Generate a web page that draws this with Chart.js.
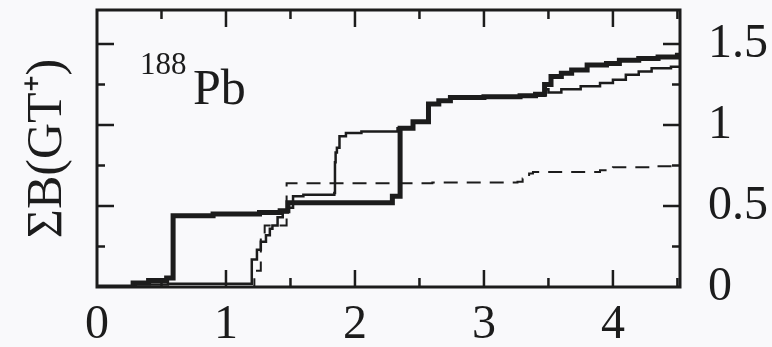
<!DOCTYPE html>
<html>
<head>
<meta charset="utf-8">
<script src="https://cdn.jsdelivr.net/npm/chart.js@4.4.0/dist/chart.umd.min.js"></script>
<style>
  html, body { margin: 0; padding: 0; background: #f9f9fb; }
  #wrap { width: 772px; height: 347px; }
</style>
</head>
<body>
<div id="wrap"><canvas id="chart"></canvas></div>
<script>
// Cumulative B(GT+) strength vs excitation energy
const thickX = [0, 0.28, 0.4, 0.54, 0.59, 0.9, 1.26, 1.42, 1.48, 2.29, 2.35, 2.45, 2.57, 2.65, 2.74, 3.0, 3.28, 3.4, 3.47, 3.52, 3.6, 3.68, 3.8, 3.95, 4.05, 4.2, 4.35, 4.5, 4.52];
const thickY = [0, 0.025, 0.04, 0.055, 0.44, 0.45, 0.46, 0.47, 0.52, 0.56, 0.98, 1.02, 1.13, 1.15, 1.17, 1.175, 1.18, 1.19, 1.25, 1.30, 1.32, 1.34, 1.37, 1.38, 1.40, 1.41, 1.42, 1.43, 1.43];

const thinX = [0, 0.3, 0.55, 1.17, 1.2, 1.24, 1.27, 1.31, 1.34, 1.36, 1.4, 1.44, 1.48, 1.52, 1.6, 1.84, 1.845, 1.85, 1.86, 1.88, 1.93, 2.05, 2.33, 2.45, 2.57, 2.65, 2.74, 3.0, 3.28, 3.47, 3.5, 3.6, 3.75, 3.9, 4.0, 4.1, 4.2, 4.3, 4.45, 4.52];
const thinY = [0, 0.015, 0.02, 0.02, 0.17, 0.23, 0.28, 0.32, 0.36, 0.38, 0.43, 0.46, 0.49, 0.56, 0.57, 0.58, 0.77, 0.83, 0.86, 0.93, 0.95, 0.96, 0.98, 1.02, 1.13, 1.15, 1.17, 1.175, 1.18, 1.22, 1.20, 1.22, 1.24, 1.26, 1.28, 1.31, 1.33, 1.35, 1.36, 1.36];

const dashX = [1.18, 1.22, 1.27, 1.3, 1.47, 2.0, 2.6, 3.26, 3.3, 3.35, 3.38, 3.6, 3.9, 4.0, 4.3, 4.52];
const dashY = [0, 0.1, 0.3, 0.38, 0.64, 0.64, 0.645, 0.65, 0.67, 0.70, 0.71, 0.71, 0.72, 0.74, 0.745, 0.765];

const xTicks = [0, 1, 2, 3, 4];
const yTicks = [0, 0.5, 1, 1.5];

const ink = '#1c1c1c';
const serif = '"Liberation Serif", "Times New Roman", Times, serif';

function pts(xs, ys) {
    return xs.map((x, i) => ({ x: x, y: ys[i] }));
}

// frame with inward ticks on all four sides, like the paper figure
const framePlugin = {
    id: 'frame',
    afterDatasetsDraw(chart) {
        const { ctx, chartArea: a, scales } = chart;
        ctx.save();
        ctx.strokeStyle = ink;
        ctx.lineWidth = 3;
        ctx.strokeRect(a.left, a.top, a.right - a.left, a.bottom - a.top);
        ctx.lineWidth = 2.5;
        ctx.beginPath();
        for (let v = 0.5; v < 4.52; v += 0.5) {
            const px = scales.x.getPixelForValue(v);
            const len = Number.isInteger(v) ? 17 : 9;
            ctx.moveTo(px, a.bottom); ctx.lineTo(px, a.bottom - len);
            ctx.moveTo(px, a.top); ctx.lineTo(px, a.top + len);
        }
        for (let v = 0.25; v < 1.71; v += 0.25) {
            const py = scales.y.getPixelForValue(v);
            const len = Math.abs(v * 2 - Math.round(v * 2)) < 1e-6 ? 17 : 8;
            ctx.moveTo(a.left, py); ctx.lineTo(a.left + len, py);
            ctx.moveTo(a.right, py); ctx.lineTo(a.right - len, py);
        }
        ctx.stroke();

        // nucleus label
        ctx.fillStyle = ink;
        ctx.textBaseline = 'alphabetic';
        ctx.font = '31px ' + serif;
        ctx.fillText('188', 140, 74);
        ctx.font = '50px ' + serif;
        ctx.fillText('Pb', 193, 104);
        ctx.restore();
    }
};

new Chart(document.getElementById('chart'), {
    type: 'line',
    data: {
        datasets: [
            { label: 'dashed', data: pts(dashX, dashY), borderColor: ink, borderWidth: 2, borderDash: [14, 9], stepped: true, pointRadius: 0, yAxisID: 'y' },
            { label: 'thin', data: pts(thinX, thinY), borderColor: ink, borderWidth: 2.5, stepped: true, pointRadius: 0, yAxisID: 'y' },
            { label: 'thick', data: pts(thickX, thickY), borderColor: ink, borderWidth: 5, stepped: true, pointRadius: 0, yAxisID: 'y' }
        ]
    },
    options: {
        responsive: true,
        maintainAspectRatio: false,
        animation: false,
        layout: { padding: { top: 10, left: 0, right: 0, bottom: 0 } },
        plugins: { legend: { display: false }, tooltip: { enabled: false } },
        scales: {
            x: {
                type: 'linear', position: 'bottom', min: 0, max: 4.52,
                grid: { display: false }, border: { display: false },
                afterBuildTicks: s => { s.ticks = xTicks.map(v => ({ value: v })); },
                ticks: { color: ink, padding: 2, autoSkip: false, maxRotation: 0, font: { family: serif, size: 48 }, callback: v => String(v) },
                afterFit: s => { s.height = 60; s.paddingLeft = 0; s.paddingRight = 0; }
            },
            y: {
                type: 'linear', position: 'right', min: 0, max: 1.71,
                grid: { display: false }, border: { display: false },
                afterBuildTicks: s => { s.ticks = yTicks.map(v => ({ value: v })); },
                ticks: { color: ink, padding: 20, font: { family: serif, size: 48 }, callback: v => String(v) },
                afterFit: s => { s.width = 92; s.paddingTop = 0; s.paddingBottom = 0; }
            },
            yl: {
                type: 'linear', position: 'left', min: 0, max: 1.71,
                grid: { display: false }, border: { display: false },
                ticks: { display: false },
                title: { display: true, text: 'ΣB(GT⁺)', color: ink, padding: { top: 18, bottom: 0 }, font: { family: serif, size: 50 } },
                afterFit: s => { s.width = 97; s.paddingTop = 0; s.paddingBottom = 0; }
            }
        }
    },
    plugins: [framePlugin]
});
</script>
</body>
</html>
